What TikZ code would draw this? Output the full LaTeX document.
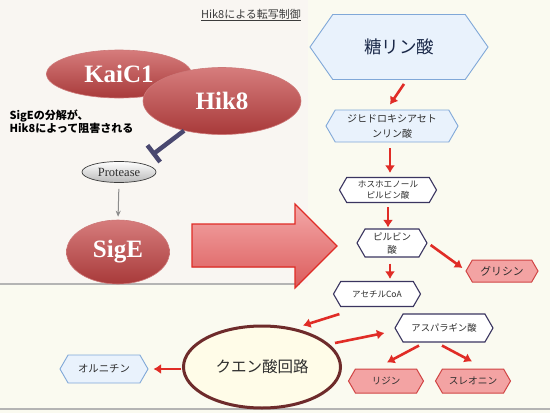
\documentclass[tikz,border=0pt]{standalone}
\usepackage{fontspec}
\setmainfont{Liberation Serif}
\newfontfamily\jp{Noto Sans CJK JP}
\usetikzlibrary{shapes.symbols,shapes.geometric,arrows.meta,calc}
\definecolor{bgc}{HTML}{FAFAF0}
\definecolor{panelc}{HTML}{F9F6F2}
\definecolor{rulec}{HTML}{B4B4B4}
\definecolor{redtop}{RGB}{214,124,124}
\definecolor{redbot}{RGB}{168,58,58}
\definecolor{redline}{RGB}{224,44,38}
\definecolor{lbfill}{HTML}{E9F2FC}
\definecolor{lbdraw}{HTML}{80A8D8}
\definecolor{navy}{HTML}{3A3560}
\definecolor{pkfill}{HTML}{F3A3A3}
\definecolor{pkdraw}{HTML}{D04444}
\definecolor{inhc}{HTML}{4A4870}
\definecolor{tcafill}{HTML}{FFFCE8}
\definecolor{tcadraw}{HTML}{6E2B2B}
\definecolor{txtc}{HTML}{2E2E2E}
\begin{document}
\begin{tikzpicture}[x=1pt,y=-1pt,
  redell/.style={ellipse, inner sep=0pt, top color=redtop, bottom color=redbot,
    draw={rgb,255:red,205;green,120;blue,120}, line width=0.6pt, text=white,
    font=\bfseries\fontsize{25}{25}\selectfont},
  hex/.style={signal, signal to=west and east, signal pointer angle=120,
    inner sep=0pt, align=center, text=txtc},
  hexblue/.style={hex, fill=lbfill, draw=lbdraw, line width=0.9pt},
  hexwhite/.style={hex, fill=white, draw=navy, line width=1.1pt},
  hexpink/.style={hex, fill=pkfill, draw=pkdraw, line width=1pt},
  redarr/.style={draw=redline, line width=2.6pt, -{Latex[length=7.5pt,width=10pt]}},
  jpf/.style={font=\jp\fontsize{#1}{#1}\selectfont}
]
\useasboundingbox (0,0) rectangle (550,413);
\fill[bgc] (0,0) rectangle (550,413);
\fill[panelc] (0,0) rectangle (308,284);
\fill[rulec] (0,283.4) rectangle (300,284.6);
\fill[rulec] (0,408.2) rectangle (550,409.8);

% title
\node[text={rgb,255:red,60;green,60;blue,60}, font=\jp\fontsize{11}{11}\selectfont] (title) at (251,15) {\underline{Hik8による転写制御}};

% left panel
\node[redell, minimum width=145pt, minimum height=48pt] (kaic) at (119,74) {KaiC1};
\node[redell, minimum width=158pt, minimum height=67pt] (hik) at (222,101) {Hik8};
\node[anchor=west, align=left, text=black, font=\jp\bfseries\fontsize{11}{13}\selectfont] (note) at (6,121.5) {SigEの分解が、\\Hik8によって阻害される};
\node[ellipse, inner sep=0pt, minimum width=74pt, minimum height=21pt, top color=white, bottom color={rgb,255:red,185;green,185;blue,185}, draw={rgb,255:red,60;green,60;blue,60}, line width=0.7pt, text=txtc, font=\fontsize{12.5}{12.5}\selectfont] (prot) at (119,172) {Protease};
\node[redell, minimum width=103pt, minimum height=64pt] (sige) at (118,252) {SigE};
\coordinate (inhend) at (152,155);
\draw[inhc, line width=4.5pt, -{Bar[width=21pt 0 0, line width=4.5pt]}] (hik.218) -- (inhend);
\draw[draw={rgb,255:red,140;green,140;blue,140}, line width=1pt, -{Stealth[length=6pt,width=5pt]}, shorten <=6pt, shorten >=3pt] (prot.south) -- (sige.north);

% big arrow
\filldraw[draw=redline, line width=1.2pt, top color={rgb,255:red,243;green,168;blue,168}, bottom color={rgb,255:red,220;green,92;blue,92}]
  (192,224) -- (295,224) -- (295,204) -- (337,246) -- (295,288) -- (295,267) -- (192,267) -- cycle;

% right pathway
\node[hexblue, minimum width=178pt, minimum height=65pt, signal pointer angle=110, text={rgb,255:red,26;green,40;blue,72}, jpf=17.5] (tou) at (399,47) {糖リン酸};
\node[hexblue, minimum width=132pt, minimum height=32pt, font=\jp\fontsize{10}{15}\selectfont] (dhap) at (392,126) {ジヒドロキシアセト\\ンリン酸};
\node[hexwhite, minimum width=97pt, minimum height=25pt, font=\jp\fontsize{8.6}{11}\selectfont] (pep) at (388,190) {ホスホエノール\\ピルビン酸};
\node[hexwhite, minimum width=70pt, minimum height=28pt, font=\jp\fontsize{9.5}{13}\selectfont] (pyr) at (392,243) {ピルビン\\酸};
\node[hexpink, minimum width=72pt, minimum height=22pt, jpf=10.8] (gly) at (502,271) {グリシン};
\node[hexwhite, minimum width=87pt, minimum height=25pt, jpf=8.5] (acoa) at (377,294) {アセチルCoA};
\node[hexwhite, minimum width=98pt, minimum height=28pt, jpf=9.3] (asp) at (444,328) {アスパラギン酸};
\node[ellipse, inner sep=0pt, minimum width=157pt, minimum height=82pt, fill=tcafill, draw=tcadraw, line width=3pt, text=txtc, jpf=15.5] (tca) at (262,367) {クエン酸回路};
\node[hexblue, minimum width=88pt, minimum height=28pt, jpf=10.4] (orn) at (104,369) {オルニチン};
\node[hexpink, minimum width=75pt, minimum height=24pt, jpf=9.5] (lys) at (386,381) {リジン};
\node[hexpink, minimum width=75pt, minimum height=24pt, jpf=9.7] (thr) at (473,381) {スレオニン};

% red arrows
\draw[redarr] ($(tou.south)+(5,4)$) -- ($(dhap.north)+(-2,-5)$);
\draw[redarr] ($(dhap.south)+(-2,6)$) -- ($(pep.north)+(2,-4)$);
\draw[redarr] ($(pep.south)+(0,4)$) -- ($(pyr.north)+(-4,-1)$);
\draw[redarr] ($(pyr.east)+(3,2)$) -- ($(gly.west)+(-3,-3)$);
\draw[redarr] ($(pyr.south)+(-2,6)$) -- ($(acoa.north)+(13,-2)$);
\draw[redarr] ($(acoa.south west)+(-1,7)$) -- ($(tca.north)+(41,1)$);
\draw[redarr] ($(tca.east)+(-7,-24)$) -- ($(asp.west)+(-10,5)$);
\draw[redarr] ($(asp.south)+(-25,3)$) -- ($(lys.north)+(1,-6)$);
\draw[redarr] ($(asp.south)+(-2,3)$) -- ($(thr.north)+(-1,-7)$);
\draw[redarr] ($(tca.west)+(-1,2)$) -- ($(orn.east)+(5,0)$);
\end{tikzpicture}
\end{document}
